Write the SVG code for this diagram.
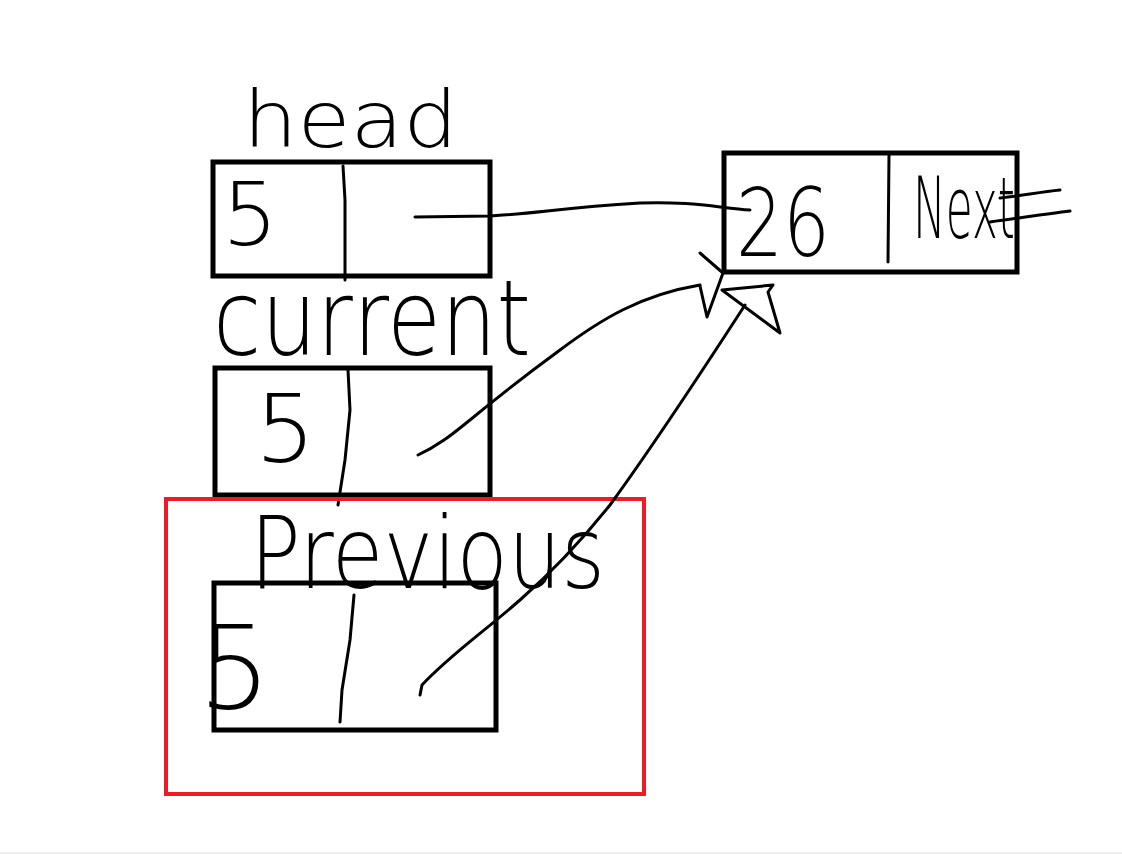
<svg xmlns="http://www.w3.org/2000/svg" width="1122" height="855" viewBox="0 0 1122 855">
<style>
.box{fill:none;stroke:#000;stroke-width:5}
.ink{fill:none;stroke:#000;stroke-width:3;stroke-linecap:round;stroke-linejoin:round}
.hand{font-family:"DejaVu Sans","Liberation Sans",Arial,sans-serif;font-weight:200;fill:#000}
</style>
<rect x="0" y="0" width="1122" height="855" fill="#fff"/>
<line x1="0" y1="853" x2="1122" y2="853" stroke="#eeeeee" stroke-width="2"/>
<g id="head">
<text class="hand" x="243" y="147" font-size="78" textLength="215" lengthAdjust="spacingAndGlyphs">head</text>
<rect class="box" x="213" y="162" width="277" height="114"/>
<path class="ink" d="M343,166 L345,200 L345,280"/>
<text class="hand" x="222" y="245" font-size="88">5</text>
</g>
<g id="current">
<text class="hand" x="213" y="355" font-size="105" textLength="318" lengthAdjust="spacingAndGlyphs">current</text>
<rect class="box" x="215" y="368" width="275" height="127"/>
<path class="ink" d="M348,370 L350,410 L345,460 L338,505"/>
<text class="hand" x="255" y="462" font-size="95">5</text>
</g>
<g id="previous">
<rect x="166" y="499" width="478" height="295" fill="none" stroke="#ed1c24" stroke-width="4"/>
<text class="hand" x="250" y="588" font-size="100" textLength="355" lengthAdjust="spacingAndGlyphs">Previous</text>
<rect class="box" x="214" y="583" width="282" height="147"/>
<path class="ink" d="M354,595 L350,640 L342,690 L340,722"/>
<text class="hand" x="198" y="708" font-size="115">5</text>
</g>
<g id="node26">
<rect class="box" x="724" y="153" width="293" height="119"/>
<path class="ink" d="M889,155 L888,262"/>
<text class="hand" x="736" y="256" font-size="95" textLength="94" lengthAdjust="spacingAndGlyphs">26</text>
<text class="hand" x="913" y="238" font-size="85" textLength="102" lengthAdjust="spacingAndGlyphs">Next</text>
</g>
<g id="connectors">
<path class="ink" d="M415,217 L490,216 C540,213 560,208 640,203 C690,201 720,208 750,210"/>
<path class="ink" d="M1000,198 C1020,196 1040,192 1060,190 M990,222 C1020,218 1045,214 1070,211"/>
<path class="ink" d="M418,455 C440,445 455,432 470,420 C500,395 530,372 560,350 C600,320 640,295 700,285"/>
<path class="ink" d="M700,253 L723,273 L707,317 L700,286"/>
<path class="ink" d="M420,695 L422,685 C450,655 480,635 520,600 C560,565 590,530 610,505 C650,450 690,390 745,305"/>
<path class="ink" d="M722,290 L773,285 L768,292 L780,333 Z"/>
</g>
</svg>
